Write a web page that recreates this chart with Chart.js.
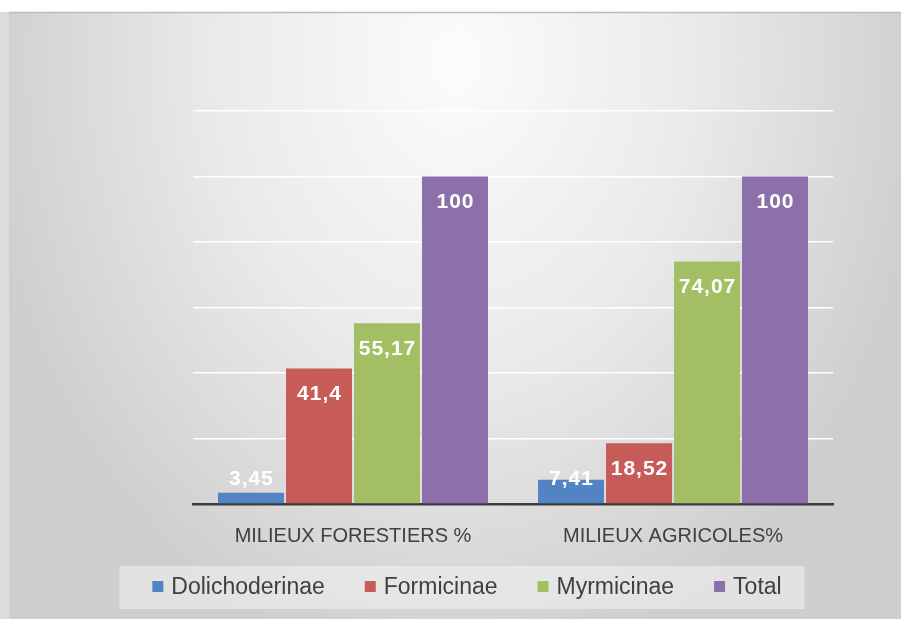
<!DOCTYPE html>
<html>
<head>
<meta charset="utf-8">
<script src="https://cdn.jsdelivr.net/npm/chart.js@4/dist/chart.umd.min.js"></script>
<style>
  html, body { margin: 0; padding: 0; background: #fff; }
  #wrap { width: 901px; height: 619px; }
</style>
</head>
<body>
<div id="wrap"><canvas id="chart" width="901" height="619"></canvas></div>
<script>
// categories and values
const categories = ["MILIEUX FORESTIERS %", "MILIEUX AGRICOLES%"];
const seriesNames = ["Dolichoderinae", "Formicinae", "Myrmicinae", "Total"];
const dolichoderinae = [3.45, 7.41];
const formicinae = [41.4, 18.52];
const myrmicinae = [55.17, 74.07];
const total = [100, 100];
const yMin = 0;
const yMax = 120;
const yStep = 20;

const colors = ["#5283c4", "#c65b58", "#a2bf64", "#8b70ac"];
const textColor = "#404040";

// grey frame with a soft radial light from the top
const backdrop = {
  id: "backdrop",
  beforeDraw(chart) {
    const ctx = chart.ctx;
    const W = chart.width, H = chart.height;
    ctx.save();
    ctx.fillStyle = "#ffffff";
    ctx.fillRect(0, 0, W, H);
    ctx.fillStyle = "#dcdcdc";
    ctx.fillRect(0, 12, 9, H - 12);

    ctx.save();
    ctx.beginPath();
    ctx.rect(9, 12, W - 9, H - 12);
    ctx.clip();
    ctx.translate(455, 60);
    ctx.scale(480 / 620, 1);
    const g = ctx.createRadialGradient(0, 0, 0, 0, 0, 620);
    g.addColorStop(0, "#fcfcfc");
    g.addColorStop(0.5, "#eaeaea");
    g.addColorStop(1, "#cecece");
    ctx.fillStyle = g;
    ctx.fillRect(-700, -100, 1400, 800);
    ctx.restore();

    ctx.strokeStyle = "#bdbdbd";
    ctx.lineWidth = 1.5;
    ctx.beginPath();
    ctx.moveTo(9, 12.5);
    ctx.lineTo(W, 12.5);
    ctx.stroke();
    ctx.restore();
  }
};

// white value labels near the top of each bar
const valueLabels = {
  id: "valueLabels",
  afterDatasetsDraw(chart) {
    const ctx = chart.ctx;
    ctx.save();
    ctx.font = "bold 21px 'Liberation Sans'";
    ctx.letterSpacing = "1px";
    ctx.fillStyle = "#ffffff";
    ctx.textAlign = "center";
    ctx.textBaseline = "middle";
    chart.data.datasets.forEach((ds, i) => {
      chart.getDatasetMeta(i).data.forEach((bar, j) => {
        const y = Math.min(bar.y + 26, bar.base - 24);
        ctx.fillText(String(ds.data[j]).replace(".", ","), bar.x + 0.5, y);
      });
    });
    ctx.restore();
  }
};

// legend strip under the axis
const legendStrip = {
  id: "legendStrip",
  afterDraw(chart) {
    const ctx = chart.ctx;
    ctx.save();
    ctx.font = "23px 'Liberation Sans'";
    const sq = 11, gapText = 8, gapItem = 40;
    const widths = seriesNames.map((n) => ctx.measureText(n).width);
    const span = widths.reduce((a, w) => a + sq + gapText + w, 0) + gapItem * (seriesNames.length - 1);
    let x = 467 - span / 2;

    ctx.fillStyle = "rgba(240,240,240,0.6)";
    ctx.fillRect(x - 33, 566, span + 56, 43);

    ctx.textBaseline = "alphabetic";
    seriesNames.forEach((name, i) => {
      ctx.fillStyle = colors[i];
      ctx.fillRect(x, 581, sq, sq);
      ctx.fillStyle = textColor;
      ctx.fillText(name, x + sq + gapText, 593.5);
      x += sq + gapText + widths[i] + gapItem;
    });
    ctx.restore();
  }
};

const ctx = document.getElementById("chart").getContext("2d");

new Chart(ctx, {
  type: "bar",
  data: {
    labels: categories,
    datasets: [dolichoderinae, formicinae, myrmicinae, total].map((d, i) => ({
      label: seriesNames[i],
      data: d,
      backgroundColor: colors[i],
      borderWidth: 0,
      categoryPercentage: 0.85,
      barPercentage: 0.97,
    })),
  },
  options: {
    responsive: false,
    animation: false,
    devicePixelRatio: 1,
    layout: { padding: { left: 193, right: 68, top: 111, bottom: 51 } },
    plugins: {
      legend: { display: false },
      tooltip: { enabled: false },
    },
    scales: {
      x: {
        grid: { display: false, drawTicks: false },
        border: { color: "#3c3c3c", width: 2.5 },
        ticks: {
          color: textColor,
          padding: 20,
          font: { family: "'Liberation Sans'", size: 20 },
        },
      },
      y: {
        min: yMin,
        max: yMax,
        ticks: { display: false, stepSize: yStep },
        border: { display: false },
        grid: {
          drawTicks: false,
          lineWidth: 1.5,
          color: (c) => (c.tick && c.tick.value === 0 ? "rgba(0,0,0,0)" : "#ffffff"),
        },
        afterFit(scale) {
          scale.width = 0;
        },
      },
    },
  },
  plugins: [backdrop, valueLabels, legendStrip],
});
</script>
</body>
</html>
